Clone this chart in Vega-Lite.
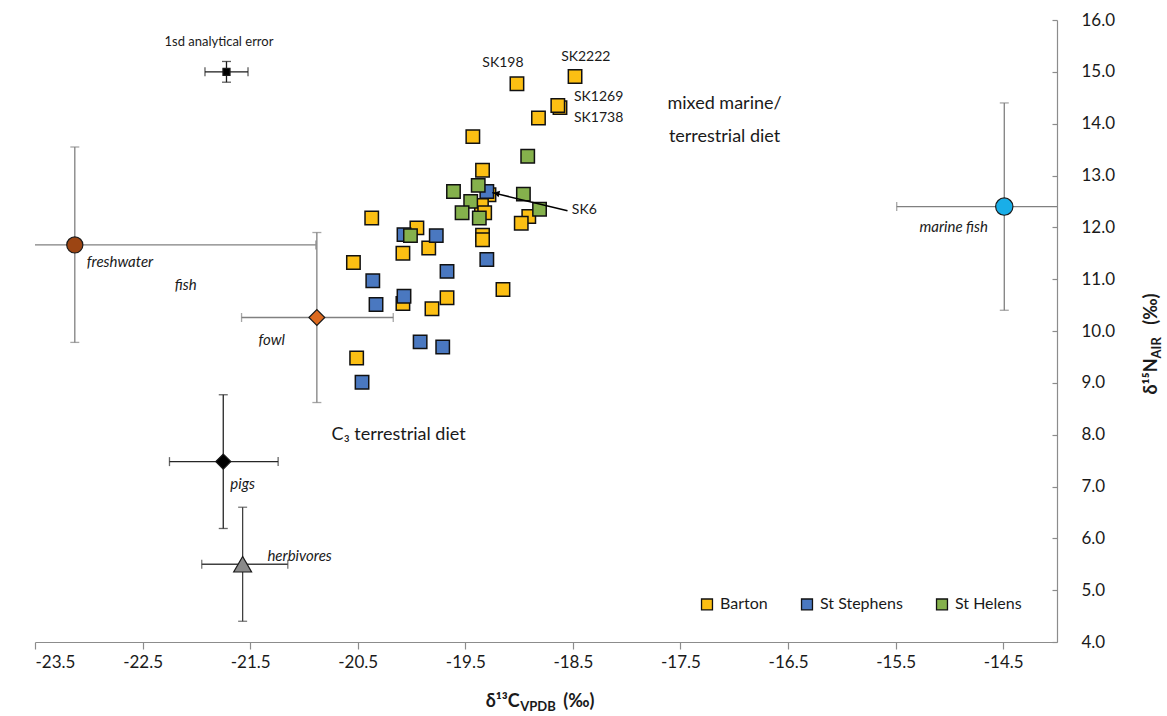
{
  "$schema": "https://vega.github.io/schema/vega-lite/v6.json",
  "width": 1022,
  "height": 622,
  "autosize": {"type": "none"},
  "padding": {"left": 35, "top": 20, "right": 110, "bottom": 74},
  "background": "white",
  "config": {"view": {"stroke": null}, "font": "Lato", "text": {"font": "Lato"}},
  "datasets": {
    "refs": [
      {"name": "freshwater fish", "x": -23.13, "y": 11.66, "xlo": -25.37, "xhi": -20.89, "ylo": 9.78, "yhi": 13.55},
      {"name": "fowl", "x": -20.88, "y": 10.26, "xlo": -21.58, "xhi": -20.17, "ylo": 8.62, "yhi": 11.9},
      {"name": "pigs", "x": -21.75, "y": 7.48, "xlo": -22.25, "xhi": -21.24, "ylo": 6.19, "yhi": 8.77},
      {"name": "herbivores", "x": -21.57, "y": 5.5, "xlo": -21.95, "xhi": -21.15, "ylo": 4.4, "yhi": 6.6},
      {"name": "marine fish", "x": -14.49, "y": 12.4, "xlo": -15.49, "xhi": -13.49, "ylo": 10.4, "yhi": 14.4},
      {"name": "1sd analytical error", "x": -21.72, "y": 15.0, "xlo": -21.92, "xhi": -21.52, "ylo": 14.8, "yhi": 15.2}
    ],
    "samples": [
      {"site": "Barton", "x": -18.48, "y": 14.91},
      {"site": "Barton", "x": -19.02, "y": 14.77},
      {"site": "Barton", "x": -18.62, "y": 14.31},
      {"site": "Barton", "x": -18.64, "y": 14.35},
      {"site": "Barton", "x": -18.82, "y": 14.11},
      {"site": "Barton", "x": -19.43, "y": 13.75},
      {"site": "Barton", "x": -19.34, "y": 13.1},
      {"site": "Barton", "x": -19.28, "y": 12.63},
      {"site": "Barton", "x": -19.35, "y": 12.42},
      {"site": "Barton", "x": -19.32, "y": 12.28},
      {"site": "Barton", "x": -18.91, "y": 12.21},
      {"site": "Barton", "x": -18.98, "y": 12.08},
      {"site": "Barton", "x": -19.34, "y": 11.85},
      {"site": "Barton", "x": -19.34, "y": 11.76},
      {"site": "Barton", "x": -20.37, "y": 12.18},
      {"site": "Barton", "x": -19.95, "y": 11.99},
      {"site": "Barton", "x": -19.84, "y": 11.6},
      {"site": "Barton", "x": -20.08, "y": 11.5},
      {"site": "Barton", "x": -20.54, "y": 11.32},
      {"site": "Barton", "x": -20.08, "y": 10.53},
      {"site": "Barton", "x": -19.67, "y": 10.64},
      {"site": "Barton", "x": -19.81, "y": 10.43},
      {"site": "Barton", "x": -19.15, "y": 10.8},
      {"site": "Barton", "x": -20.51, "y": 9.48},
      {"site": "St Stephens", "x": -19.3, "y": 12.69},
      {"site": "St Stephens", "x": -20.07, "y": 11.86},
      {"site": "St Stephens", "x": -19.77, "y": 11.84},
      {"site": "St Stephens", "x": -19.3, "y": 11.38},
      {"site": "St Stephens", "x": -19.67, "y": 11.15},
      {"site": "St Stephens", "x": -20.36, "y": 10.97},
      {"site": "St Stephens", "x": -20.07, "y": 10.67},
      {"site": "St Stephens", "x": -20.33, "y": 10.51},
      {"site": "St Stephens", "x": -19.92, "y": 9.79},
      {"site": "St Stephens", "x": -19.71, "y": 9.69},
      {"site": "St Stephens", "x": -20.46, "y": 9.01},
      {"site": "St Helens", "x": -18.92, "y": 13.37},
      {"site": "St Helens", "x": -19.61, "y": 12.69},
      {"site": "St Helens", "x": -19.38, "y": 12.81},
      {"site": "St Helens", "x": -18.96, "y": 12.64},
      {"site": "St Helens", "x": -19.45, "y": 12.5},
      {"site": "St Helens", "x": -19.53, "y": 12.28},
      {"site": "St Helens", "x": -19.37, "y": 12.18},
      {"site": "St Helens", "x": -18.81, "y": 12.35},
      {"site": "St Helens", "x": -20.01, "y": 11.84}
    ]
  },
  "layer": [
    {
      "data": {"name": "refs"},
      "mark": {"type": "rule", "clip": true, "strokeWidth": 1.3},
      "encoding": {
        "x": {"field": "xlo", "type": "quantitative", "scale": {"domain": [-23.5, -14], "nice": false, "zero": false},
          "axis": {"values": [-23.5, -22.5, -21.5, -20.5, -19.5, -18.5, -17.5, -16.5, -15.5, -14.5], "labelExpr": "replace(format(datum.value, '.1f'), '−', '-')", "title": null, "grid": false, "domainColor": "#8c8c8c", "domainWidth": 1.2, "tickColor": "#8c8c8c", "tickWidth": 1.2, "tickSize": 7, "labelFontSize": 17, "labelColor": "#1a1a1a", "labelPadding": 5, "labelFont": "Lato", "orient": "bottom"}},
        "x2": {"field": "xhi"},
        "y": {"field": "y", "type": "quantitative", "scale": {"domain": [4, 16], "nice": false, "zero": false},
          "axis": {"values": [4, 5, 6, 7, 8, 9, 10, 11, 12, 13, 14, 15, 16], "format": ".1f", "title": null, "grid": false, "domainColor": "#8c8c8c", "domainWidth": 1.2, "tickColor": "#8c8c8c", "tickWidth": 1.2, "tickSize": -5, "labelFontSize": 17, "labelColor": "#1a1a1a", "labelPadding": 29, "labelFont": "Lato", "orient": "right"}},
        "color": {"field": "name", "type": "nominal", "legend": null,
          "scale": {"domain": ["freshwater fish", "fowl", "pigs", "herbivores", "marine fish", "1sd analytical error"], "range": ["#808080", "#808080", "#262626", "#404040", "#808080", "#1a1a1a"]}}
      }
    },
    {
      "data": {"name": "refs"},
      "mark": {"type": "rule", "clip": true, "strokeWidth": 1.3},
      "encoding": {
        "x": {"field": "x", "type": "quantitative", "scale": {"domain": [-23.5, -14], "nice": false, "zero": false}},
        "y": {"field": "ylo", "type": "quantitative", "scale": {"domain": [4, 16], "nice": false, "zero": false}},
        "y2": {"field": "yhi"},
        "color": {"field": "name", "type": "nominal", "legend": null,
          "scale": {"domain": ["freshwater fish", "fowl", "pigs", "herbivores", "marine fish", "1sd analytical error"], "range": ["#808080", "#808080", "#262626", "#404040", "#808080", "#1a1a1a"]}}
      }
    },
    {
      "data": {"name": "refs"},
      "mark": {"type": "tick", "orient": "vertical", "clip": true, "size": 9, "thickness": 1.3},
      "encoding": {
        "x": {"field": "xlo", "type": "quantitative", "scale": {"domain": [-23.5, -14], "nice": false, "zero": false}},
        "y": {"field": "y", "type": "quantitative", "scale": {"domain": [4, 16], "nice": false, "zero": false}},
        "color": {"field": "name", "type": "nominal", "legend": null,
          "scale": {"domain": ["freshwater fish", "fowl", "pigs", "herbivores", "marine fish", "1sd analytical error"], "range": ["#808080", "#808080", "#262626", "#404040", "#808080", "#1a1a1a"]}}
      }
    },
    {
      "data": {"name": "refs"},
      "mark": {"type": "tick", "orient": "vertical", "clip": true, "size": 9, "thickness": 1.3},
      "encoding": {
        "x": {"field": "xhi", "type": "quantitative", "scale": {"domain": [-23.5, -14], "nice": false, "zero": false}},
        "y": {"field": "y", "type": "quantitative", "scale": {"domain": [4, 16], "nice": false, "zero": false}},
        "color": {"field": "name", "type": "nominal", "legend": null,
          "scale": {"domain": ["freshwater fish", "fowl", "pigs", "herbivores", "marine fish", "1sd analytical error"], "range": ["#808080", "#808080", "#262626", "#404040", "#808080", "#1a1a1a"]}}
      }
    },
    {
      "data": {"name": "refs"},
      "mark": {"type": "tick", "orient": "horizontal", "clip": true, "size": 9, "thickness": 1.3},
      "encoding": {
        "x": {"field": "x", "type": "quantitative", "scale": {"domain": [-23.5, -14], "nice": false, "zero": false}},
        "y": {"field": "ylo", "type": "quantitative", "scale": {"domain": [4, 16], "nice": false, "zero": false}},
        "color": {"field": "name", "type": "nominal", "legend": null,
          "scale": {"domain": ["freshwater fish", "fowl", "pigs", "herbivores", "marine fish", "1sd analytical error"], "range": ["#808080", "#808080", "#262626", "#404040", "#808080", "#1a1a1a"]}}
      }
    },
    {
      "data": {"name": "refs"},
      "mark": {"type": "tick", "orient": "horizontal", "clip": true, "size": 9, "thickness": 1.3},
      "encoding": {
        "x": {"field": "x", "type": "quantitative", "scale": {"domain": [-23.5, -14], "nice": false, "zero": false}},
        "y": {"field": "yhi", "type": "quantitative", "scale": {"domain": [4, 16], "nice": false, "zero": false}},
        "color": {"field": "name", "type": "nominal", "legend": null,
          "scale": {"domain": ["freshwater fish", "fowl", "pigs", "herbivores", "marine fish", "1sd analytical error"], "range": ["#808080", "#808080", "#262626", "#404040", "#808080", "#1a1a1a"]}}
      }
    },
    {
      "data": {"name": "refs"},
      "mark": {"type": "point", "filled": true, "stroke": "#1a1a1a", "strokeWidth": 1.2, "opacity": 1},
      "encoding": {
        "x": {"field": "x", "type": "quantitative", "scale": {"domain": [-23.5, -14], "nice": false, "zero": false}},
        "y": {"field": "y", "type": "quantitative", "scale": {"domain": [4, 16], "nice": false, "zero": false}},
        "fill": {"field": "name", "type": "nominal", "legend": null,
          "scale": {"domain": ["freshwater fish", "fowl", "pigs", "herbivores", "marine fish", "1sd analytical error"], "range": ["#9c4513", "#dd6a1f", "#000000", "#8a8a8a", "#19aee8", "#000000"]}},
        "shape": {"field": "name", "type": "nominal", "legend": null,
          "scale": {"domain": ["freshwater fish", "fowl", "pigs", "herbivores", "marine fish", "1sd analytical error"], "range": ["circle", "diamond", "diamond", "triangle-up", "circle", "square"]}},
        "size": {"field": "name", "type": "nominal", "legend": null,
          "scale": {"type": "ordinal", "domain": ["freshwater fish", "fowl", "pigs", "herbivores", "marine fish", "1sd analytical error"], "range": [260, 250, 230, 320, 300, 50]}}
      }
    },
    {
      "data": {"name": "samples"},
      "mark": {"type": "point", "shape": "square", "filled": true, "stroke": "#111111", "strokeWidth": 1.5, "size": 180, "opacity": 1},
      "encoding": {
        "x": {"field": "x", "type": "quantitative", "scale": {"domain": [-23.5, -14], "nice": false, "zero": false}},
        "y": {"field": "y", "type": "quantitative", "scale": {"domain": [4, 16], "nice": false, "zero": false}},
        "color": {"field": "site", "type": "nominal",
          "scale": {"domain": ["Barton", "St Stephens", "St Helens"], "range": ["#fcbf13", "#4a78c0", "#85b14c"]},
          "legend": {"orient": "none", "legendX": 664, "legendY": 576, "direction": "horizontal", "title": null, "symbolType": "square", "symbolSize": 120, "symbolStrokeColor": "#111111", "symbolStrokeWidth": 1.3, "symbolOpacity": 1, "labelFontSize": 16, "labelFont": "Lato", "labelColor": "#1a1a1a", "columnPadding": 30, "labelOffset": 5}}
      }
    },
    {
      "data": {"values": [{"x": -18.55, "y": 12.32, "x2": -19.25, "y2": 12.67}]},
      "mark": {"type": "rule", "color": "#000000", "strokeWidth": 1.5},
      "encoding": {
        "x": {"field": "x", "type": "quantitative", "scale": {"domain": [-23.5, -14], "nice": false, "zero": false}},
        "y": {"field": "y", "type": "quantitative", "scale": {"domain": [4, 16], "nice": false, "zero": false}},
        "x2": {"field": "x2"},
        "y2": {"field": "y2"}
      }
    },
    {
      "data": {"values": [{"x": -19.21, "y": 12.655}]},
      "mark": {"type": "point", "shape": "triangle-right", "filled": true, "color": "#000000", "size": 45, "angle": 193.5, "opacity": 1},
      "encoding": {
        "x": {"field": "x", "type": "quantitative", "scale": {"domain": [-23.5, -14], "nice": false, "zero": false}},
        "y": {"field": "y", "type": "quantitative", "scale": {"domain": [4, 16], "nice": false, "zero": false}}
      }
    },
    {
      "data": {"values": [{"label": "SK198", "x": -19.15, "y": 15.18}, {"label": "SK2222", "x": -18.38, "y": 15.28}]},
      "mark": {"type": "text", "fontSize": 14, "color": "#1a1a1a", "align": "center", "baseline": "middle"},
      "encoding": {
        "x": {"field": "x", "type": "quantitative", "scale": {"domain": [-23.5, -14], "nice": false, "zero": false}},
        "y": {"field": "y", "type": "quantitative", "scale": {"domain": [4, 16], "nice": false, "zero": false}},
        "text": {"field": "label"}
      }
    },
    {
      "data": {"values": [{"label": "SK1269", "x": -18.49, "y": 14.51}, {"label": "SK1738", "x": -18.49, "y": 14.11}, {"label": "SK6", "x": -18.51, "y": 12.34}]},
      "mark": {"type": "text", "fontSize": 14, "color": "#1a1a1a", "align": "left", "baseline": "middle"},
      "encoding": {
        "x": {"field": "x", "type": "quantitative", "scale": {"domain": [-23.5, -14], "nice": false, "zero": false}},
        "y": {"field": "y", "type": "quantitative", "scale": {"domain": [4, 16], "nice": false, "zero": false}},
        "text": {"field": "label"}
      }
    },
    {
      "data": {"values": [{"label": "1sd analytical error", "x": -21.79, "y": 15.58}]},
      "mark": {"type": "text", "fontSize": 13, "color": "#1a1a1a", "align": "center", "baseline": "middle"},
      "encoding": {
        "x": {"field": "x", "type": "quantitative", "scale": {"domain": [-23.5, -14], "nice": false, "zero": false}},
        "y": {"field": "y", "type": "quantitative", "scale": {"domain": [4, 16], "nice": false, "zero": false}},
        "text": {"field": "label"}
      }
    },
    {
      "data": {"values": [{"label": "mixed marine/", "x": -17.09, "y": 14.38}, {"label": "terrestrial diet", "x": -17.09, "y": 13.75}, {"label": "C₃ terrestrial diet", "x": -20.12, "y": 8.0}]},
      "mark": {"type": "text", "fontSize": 18, "color": "#1a1a1a", "align": "center", "baseline": "middle"},
      "encoding": {
        "x": {"field": "x", "type": "quantitative", "scale": {"domain": [-23.5, -14], "nice": false, "zero": false}},
        "y": {"field": "y", "type": "quantitative", "scale": {"domain": [4, 16], "nice": false, "zero": false}},
        "text": {"field": "label"}
      }
    },
    {
      "data": {"values": [{"label": "marine fish", "x": -14.96, "y": 12.0}, {"label": "freshwater", "x": -22.71, "y": 11.34}, {"label": "fish", "x": -22.1, "y": 10.89}, {"label": "fowl", "x": -21.3, "y": 9.83}, {"label": "pigs", "x": -21.57, "y": 7.04}, {"label": "herbivores", "x": -21.04, "y": 5.65}]},
      "mark": {"type": "text", "fontSize": 15, "fontStyle": "italic", "color": "#1a1a1a", "align": "center", "baseline": "middle"},
      "encoding": {
        "x": {"field": "x", "type": "quantitative", "scale": {"domain": [-23.5, -14], "nice": false, "zero": false}},
        "y": {"field": "y", "type": "quantitative", "scale": {"domain": [4, 16], "nice": false, "zero": false}},
        "text": {"field": "label"}
      }
    },
    {
      "data": {"values": [{"label": "δ¹³C", "x": -19.31, "y": 2.84}]},
      "mark": {"type": "text", "fontSize": 18, "fontWeight": "bold", "color": "#1a1a1a", "align": "left", "baseline": "middle"},
      "encoding": {
        "x": {"field": "x", "type": "quantitative", "scale": {"domain": [-23.5, -14], "nice": false, "zero": false}},
        "y": {"field": "y", "type": "quantitative", "scale": {"domain": [4, 16], "nice": false, "zero": false}},
        "text": {"field": "label"}
      }
    },
    {
      "data": {"values": [{"label": "VPDB", "x": -18.99, "y": 2.84}]},
      "mark": {"type": "text", "fontSize": 13, "fontWeight": "bold", "color": "#1a1a1a", "align": "left", "baseline": "middle", "dy": 5},
      "encoding": {
        "x": {"field": "x", "type": "quantitative", "scale": {"domain": [-23.5, -14], "nice": false, "zero": false}},
        "y": {"field": "y", "type": "quantitative", "scale": {"domain": [4, 16], "nice": false, "zero": false}},
        "text": {"field": "label"}
      }
    },
    {
      "data": {"values": [{"label": "(‰)", "x": -18.59, "y": 2.84}]},
      "mark": {"type": "text", "fontSize": 18, "fontWeight": "bold", "color": "#1a1a1a", "align": "left", "baseline": "middle"},
      "encoding": {
        "x": {"field": "x", "type": "quantitative", "scale": {"domain": [-23.5, -14], "nice": false, "zero": false}},
        "y": {"field": "y", "type": "quantitative", "scale": {"domain": [4, 16], "nice": false, "zero": false}},
        "text": {"field": "label"}
      }
    },
    {
      "data": {"values": [{"label": "δ¹⁵N", "x": -13.12, "y": 9.47}]},
      "mark": {"type": "text", "fontSize": 18, "fontWeight": "bold", "color": "#1a1a1a", "align": "right", "baseline": "middle", "angle": 270},
      "encoding": {
        "x": {"field": "x", "type": "quantitative", "scale": {"domain": [-23.5, -14], "nice": false, "zero": false}},
        "y": {"field": "y", "type": "quantitative", "scale": {"domain": [4, 16], "nice": false, "zero": false}},
        "text": {"field": "label"}
      }
    },
    {
      "data": {"values": [{"label": "AIR", "x": -13.12, "y": 9.47}]},
      "mark": {"type": "text", "fontSize": 13, "fontWeight": "bold", "color": "#1a1a1a", "align": "left", "baseline": "middle", "angle": 270, "dy": 5},
      "encoding": {
        "x": {"field": "x", "type": "quantitative", "scale": {"domain": [-23.5, -14], "nice": false, "zero": false}},
        "y": {"field": "y", "type": "quantitative", "scale": {"domain": [4, 16], "nice": false, "zero": false}},
        "text": {"field": "label"}
      }
    },
    {
      "data": {"values": [{"label": "(‰)", "x": -13.12, "y": 10.12}]},
      "mark": {"type": "text", "fontSize": 18, "fontWeight": "bold", "color": "#1a1a1a", "align": "left", "baseline": "middle", "angle": 270},
      "encoding": {
        "x": {"field": "x", "type": "quantitative", "scale": {"domain": [-23.5, -14], "nice": false, "zero": false}},
        "y": {"field": "y", "type": "quantitative", "scale": {"domain": [4, 16], "nice": false, "zero": false}},
        "text": {"field": "label"}
      }
    }
  ],
  "resolve": {"scale": {"color": "independent", "fill": "independent", "shape": "independent", "size": "independent"}}
}
